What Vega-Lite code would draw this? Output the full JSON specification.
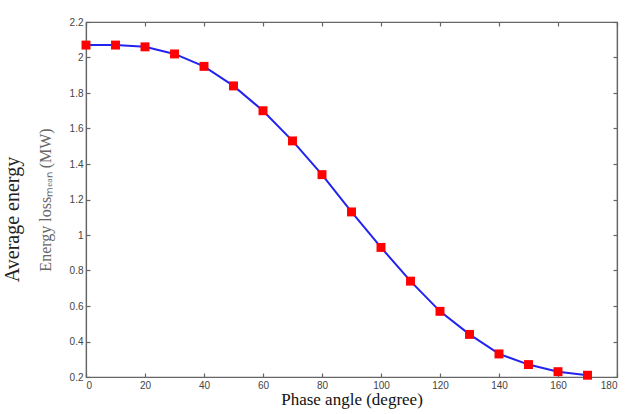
{
  "$schema": "https://vega.github.io/schema/vega-lite/v6.json",
  "width": 531,
  "height": 355,
  "autosize": {"type": "none"},
  "padding": {"left": 86, "top": 22, "right": 18, "bottom": 37},
  "background": "white",
  "title": {
    "text": "Average energy",
    "orient": "left",
    "anchor": "middle",
    "frame": "group",
    "font": "Liberation Serif",
    "fontSize": 20,
    "fontWeight": "normal",
    "color": "#222222",
    "offset": 14,
    "dx": -20
  },
  "data": {
    "values": [
      {"angle": 0, "energy": 2.07},
      {"angle": 10, "energy": 2.07},
      {"angle": 20, "energy": 2.06},
      {"angle": 30, "energy": 2.02},
      {"angle": 40, "energy": 1.95},
      {"angle": 50, "energy": 1.84},
      {"angle": 60, "energy": 1.70},
      {"angle": 70, "energy": 1.53},
      {"angle": 80, "energy": 1.34},
      {"angle": 90, "energy": 1.13},
      {"angle": 100, "energy": 0.93},
      {"angle": 110, "energy": 0.74},
      {"angle": 120, "energy": 0.57},
      {"angle": 130, "energy": 0.44},
      {"angle": 140, "energy": 0.33},
      {"angle": 150, "energy": 0.27},
      {"angle": 160, "energy": 0.23},
      {"angle": 170, "energy": 0.21}
    ]
  },
  "layer": [
    {
      "mark": {"type": "line", "color": "#2323ee", "strokeWidth": 2},
      "encoding": {
        "x": {
          "field": "angle",
          "type": "quantitative",
          "scale": {"domain": [0, 180], "nice": false},
          "axis": {
            "orient": "bottom",
            "values": [0, 20, 40, 60, 80, 100, 120, 140, 160, 180],
            "format": "d",
            "title": "Phase angle (degree)",
            "titleFont": "Liberation Serif",
            "titleFontSize": 17,
            "titleFontWeight": "normal",
            "titleColor": "#111111",
            "titleBaseline": "top",
            "titleY": 14
          }
        },
        "y": {
          "field": "energy",
          "type": "quantitative",
          "scale": {"domain": [0.2, 2.2], "nice": false, "zero": false},
          "axis": {
            "orient": "left",
            "values": [0.2, 0.4, 0.6, 0.8, 1, 1.2, 1.4, 1.6, 1.8, 2, 2.2],
            "format": "~r",
            "title": "Energy lossₘₑₐₙ (MW)",
            "titleFont": "Liberation Serif",
            "titleFontSize": 16,
            "titleFontWeight": "normal",
            "titleColor": "#666666",
            "titleBaseline": "alphabetic",
            "titleX": -36
          }
        }
      }
    },
    {
      "mark": {"type": "square", "color": "#ff0000", "size": 80, "filled": true, "opacity": 1},
      "encoding": {
        "x": {
          "field": "angle",
          "type": "quantitative",
          "axis": {
            "orient": "top",
            "values": [0, 20, 40, 60, 80, 100, 120, 140, 160, 180],
            "labels": false,
            "title": null
          }
        },
        "y": {
          "field": "energy",
          "type": "quantitative",
          "axis": {
            "orient": "right",
            "values": [0.2, 0.4, 0.6, 0.8, 1, 1.2, 1.4, 1.6, 1.8, 2, 2.2],
            "labels": false,
            "title": null
          }
        }
      }
    }
  ],
  "resolve": {"axis": {"x": "independent", "y": "independent"}},
  "config": {
    "view": {"stroke": "#666666", "strokeWidth": 1.2},
    "axis": {
      "grid": false,
      "domainColor": "#666666",
      "domainWidth": 1.2,
      "tickColor": "#666666",
      "tickWidth": 1.2,
      "tickSize": -4,
      "labelPadding": 7,
      "labelFont": "Liberation Sans",
      "labelFontSize": 10,
      "labelColor": "#444444"
    }
  }
}
